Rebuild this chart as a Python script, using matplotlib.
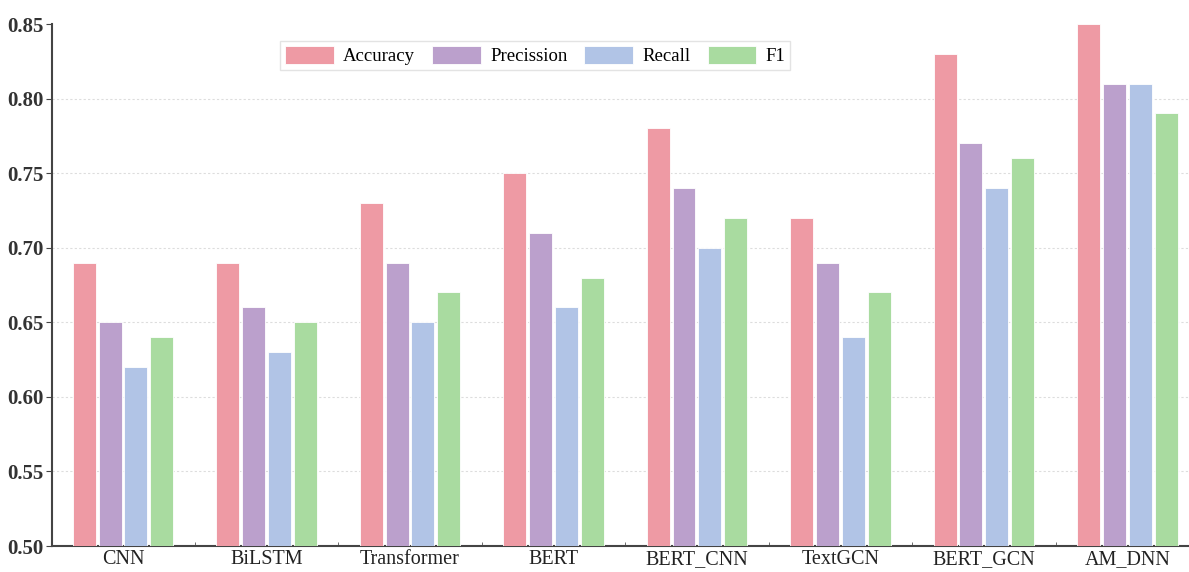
import matplotlib
matplotlib.use("Agg")
import matplotlib.pyplot as plt
import numpy as np

models = ["CNN", "BiLSTM", "Transformer", "BERT", "BERT_CNN", "TextGCN", "BERT_GCN", "AM_DNN"]
accuracy = [0.69, 0.69, 0.73, 0.75, 0.78, 0.72, 0.83, 0.85]
precision = [0.65, 0.66, 0.69, 0.71, 0.74, 0.69, 0.77, 0.81]
recall = [0.62, 0.63, 0.65, 0.66, 0.70, 0.64, 0.74, 0.81]
f1 = [0.64, 0.65, 0.67, 0.68, 0.72, 0.67, 0.76, 0.79]
series_names = ["Accuracy", "Precission", "Recall", "F1"]
colors = ["#EE9AA4", "#BBA0CC", "#B1C4E6", "#A9DBA0"]

plt.rcParams['font.family'] = ['Liberation Serif', 'DejaVu Serif']

fig = plt.figure(figsize=(11.89, 5.72), dpi=100)
ax = fig.add_axes([52/1189, 1-546/572, 1-52/1189, (546-24)/572])

x = np.arange(len(models))
w = 0.16
step = 0.18
for i, (vals, name, c) in enumerate(zip([accuracy, precision, recall, f1], series_names, colors)):
    ax.bar(x + (i - 1.5) * step, vals, width=w, color=c, label=name,
           edgecolor="white", linewidth=0.6, zorder=3)

ax.set_ylim(0.5, 0.85)
ax.set_xlim(-0.495, 7.43)
yt = np.arange(0.50, 0.851, 0.05)
ax.set_yticks(yt)
ax.set_yticklabels([f"{v:.2f}" for v in yt], fontsize=15, fontweight="bold", color="#333333")
ax.set_xticks(x)
ax.set_xticklabels(models, fontsize=14.5, color="#222222")
ax.tick_params(axis="x", length=0, pad=3)
ax.set_xticks(np.arange(0.5, 7.5, 1.0), minor=True)
ax.tick_params(axis="x", which="minor", direction="in", length=3, color="#555555")
ax.tick_params(axis="y", direction="out", length=4, color="#444444", pad=2)

ax.grid(axis="y", linestyle=(0, (2, 2)), color="#DDDDDD", linewidth=0.8, zorder=0)
gl = ax.get_ygridlines()
gl[-1].set_visible(False)
gl[0].set_visible(False)
for s in ["top", "right"]:
    ax.spines[s].set_visible(False)
for s in ["left", "bottom"]:
    ax.spines[s].set_color("#444444")
    ax.spines[s].set_linewidth(1.5)

leg = ax.legend(loc="upper center", bbox_to_anchor=(0.425, 0.985), ncol=4, fontsize=13.5,
                frameon=True, fancybox=False, edgecolor="#DDDDDD", handlelength=2.6,
                handleheight=1.1, columnspacing=0.9, handletextpad=0.5, borderpad=0.25)
leg.get_frame().set_linewidth(1.0)

fig.savefig("out.png", dpi=100)
